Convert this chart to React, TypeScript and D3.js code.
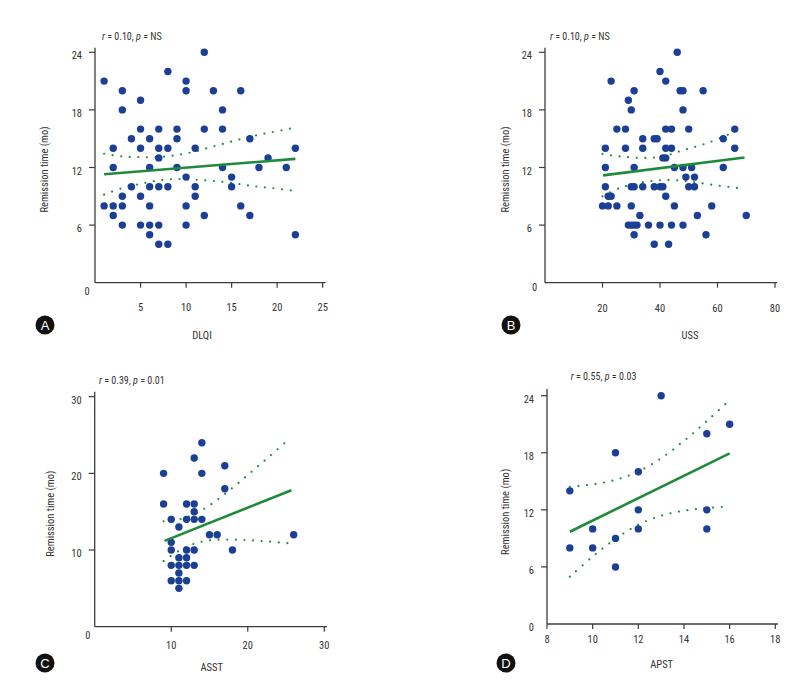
import React from "react";
import * as d3 from "d3";

// ---------- DATA ----------
// Panel A: DLQI vs remission time
const dlqiX = [1,12,8,10,10,3,13,16,5,3,14,5,7,9,12,14,4,6,9,17,2,5,7,8,11,22,7,19,2,6,9,14,18,21,10,15,4,6,7,8,11,15,3,5,11,1,2,3,6,10,16,2,12,17,3,5,6,7,10,6,22,7,8];
const dlqiY = [21,24,22,21,20,20,20,20,19,18,18,16,16,16,16,16,15,15,15,15,14,14,14,14,14,14,13,13,12,12,12,12,12,12,11,11,10,10,10,10,10,10,9,9,9,8,8,8,8,8,8,7,7,7,6,6,6,6,6,5,5,4,4];
const dlqiFit = [[1, 11.3], [22, 12.9]];
const dlqiUpper = [[1,13.43],[3,13.15],[5,13.08],[7,13.08],[9,13.3],[11,13.67],[13,14.2],[15,14.7],[17,15.2],[19,15.6],[21.7,16.1]];
const dlqiLower = [[1,9.17],[3,9.86],[5,10.3],[7,10.66],[9,10.8],[11,10.73],[13,10.6],[15,10.4],[17,10.1],[19,9.9],[21.7,9.6]];

// Panel B: USS vs remission time
const ussX = [46,40,23,42,31,47,48,55,29,30,48,25,28,42,44,50,66,34,38,39,62,21,28,34,42,44,66,41,42,21,31,45,48,51,62,49,52,21,30,31,34,38,40,41,50,52,22,23,42,20,22,25,30,45,58,33,53,70,29,30,31,32,36,40,44,48,31,56,38,43];
const ussY = [24,22,21,21,20,20,20,20,19,18,18,16,16,16,16,16,16,15,15,15,15,14,14,14,14,14,14,13,13,12,12,12,12,12,12,11,11,10,10,10,10,10,10,10,10,10,9,9,9,8,8,8,8,8,8,7,7,7,6,6,6,6,6,6,6,6,5,5,4,4];
const ussFit = [[20.2, 11.18], [69.4, 13.05]];
const ussUpper = [[20,13.4],[26,13.15],[34,13.0],[41,13.15],[48,13.8],[56,14.5],[65,15.6],[68,16.1]];
const ussLower = [[20,9.0],[26,9.86],[34,10.45],[42,10.7],[50,10.55],[58,10.2],[68,9.83]];

// Panel C: ASST vs remission time
const asstX = [9,9,14,13,14,17,17,12,13,13,10,12,13,14,11,15,16,26,10,10,12,13,18,11,12,10,11,12,13,11,10,11,12,11];
const asstY = [20,16,24,22,20,21,18,16,16,15,14,14,14,14,13,12,12,12,11,10,10,10,10,9,9,8,8,8,8,7,6,6,6,5];
const asstFit = [[9.13, 11.2], [25.7, 17.8]];
const asstUpper = [[9,13.75],[11,13.99],[13,14.66],[15,15.82],[17,17.3],[19,18.93],[21,20.63],[23,22.36],[25.3,24.39]];
const asstLower = [[9,8.55],[11,9.89],[13,10.82],[15,11.26],[17,11.36],[19,11.33],[21,11.23],[23,11.08],[25.3,10.89]];

// Panel D: APST vs remission time
const apstX = [9,9,10,10,11,11,11,12,12,12,13,15,15,15,16];
const apstY = [14,8,10,8,18,9,6,16,12,10,24,20,12,10,21];
const apstFit = [[9, 9.7], [16, 17.93]];
const apstUpper = [[9,14.43],[10,14.68],[11,15.15],[12,16.03],[13,17.42],[14,19.25],[15,21.33],[16,23.53]];
const apstLower = [[9,4.97],[10,7.08],[11,8.95],[12,10.43],[13,11.38],[14,11.91],[15,12.19],[16,12.33]];

// Ticks & labels
const dlqiTicks = [5, 10, 15, 20, 25];
const ussTicks = [20, 40, 60, 80];
const asstTicks = [10, 20, 30];
const apstTicks = [8, 10, 12, 14, 16, 18];
const yTicks24 = [6, 12, 18, 24];
const yTicks30 = [10, 20, 30];
const yLabel = "Remission time (mo)";
const statsA = { r: "0.10", p: "NS" };
const statsB = { r: "0.10", p: "NS" };
const statsC = { r: "0.39", p: "0.01" };
const statsD = { r: "0.55", p: "0.03" };

// ---------- STYLE ----------
const DOT = "#1b3f95";
const GREEN = "#1f8a3c";
const AXIS = "#3c3c3c";
const TEXT = "#333";
const FONT = "'Liberation Sans Narrow', 'Roboto Condensed', 'Roboto', sans-serif";

type Pt = number[];

interface PanelProps {
  letter: string;
  xs: number[];
  ys: number[];
  fit: Pt[];
  upper: Pt[];
  lower: Pt[];
  xDomain: [number, number];
  xRange: [number, number];
  yDomain: [number, number];
  yRange: [number, number];
  xTicks: number[];
  yTicks: number[];
  xLabel: string;
  stats: { r: string; p: string };
  yAxisTop: number;
  xAxisEnd: number;
  xLabelDy: number;
  zero: { dx: number; dy: number; anchor: string };
  xTitle: [number, number];
  yTitleX: number;
  titlePos: [number, number];
  circle: [number, number];
}

function Panel(p: PanelProps) {
  const x = d3.scaleLinear().domain(p.xDomain).range(p.xRange);
  const y = d3.scaleLinear().domain(p.yDomain).range(p.yRange);
  const x0 = p.xRange[0];
  const y0 = p.yRange[0];
  const line = d3.line<Pt>().x((d) => x(d[0])).y((d) => y(d[1]));
  const ciLine = d3
    .line<Pt>()
    .x((d) => x(d[0]))
    .y((d) => y(d[1]))
    .curve(d3.curveCatmullRom);
  const yMid = (p.yRange[0] + p.yRange[1]) / 2 + 2;
  return (
    <g fontFamily={FONT}>
      {/* axes */}
      <line x1={x0} x2={x0} y1={p.yAxisTop} y2={y0} stroke={AXIS} strokeWidth={1.3} />
      <line x1={x0} x2={p.xAxisEnd} y1={y0} y2={y0} stroke={AXIS} strokeWidth={1.3} />
      {p.yTicks.map((t) => (
        <g key={"y" + t}>
          <line x1={x0 - 6} x2={x0} y1={y(t)} y2={y(t)} stroke={AXIS} strokeWidth={1.2} />
          <text x={x0 - 13} y={y(t) + 7} textAnchor="end" fontSize={10.5} fill={TEXT}>
            {t}
          </text>
        </g>
      ))}
      <text x={x0 + p.zero.dx} y={y0 + p.zero.dy} textAnchor={p.zero.anchor as any} fontSize={10.5} fill={TEXT}>
        0
      </text>
      {p.xTicks.map((t) => (
        <g key={"x" + t}>
          <line x1={x(t)} x2={x(t)} y1={y0} y2={y0 + 5} stroke={AXIS} strokeWidth={1.2} />
          <text x={x(t)} y={y0 + p.xLabelDy} textAnchor="middle" fontSize={10.5} fill={TEXT}>
            {t}
          </text>
        </g>
      ))}
      {/* titles */}
      <text x={p.xTitle[0]} y={p.xTitle[1] + 4} textAnchor="middle" fontSize={10.5} fill={TEXT}>
        {p.xLabel}
      </text>
      <text
        transform={`translate(${p.yTitleX + 4},${yMid}) rotate(-90)`}
        textAnchor="middle"
        fontSize={10.5}
        fill={TEXT}
      >
        {yLabel}
      </text>
      <text x={p.titlePos[0]} y={p.titlePos[1] + 3.5} fontSize={10} fill={TEXT}>
        <tspan fontStyle="italic">r</tspan>
        {` = ${p.stats.r}, `}
        <tspan fontStyle="italic">p</tspan>
        {` = ${p.stats.p}`}
      </text>
      {/* CI bands */}
      <path d={ciLine(p.upper) || ""} fill="none" stroke={GREEN} strokeWidth={2.2} strokeDasharray="0 8.6" strokeLinecap="round" />
      <path d={ciLine(p.lower) || ""} fill="none" stroke={GREEN} strokeWidth={2.2} strokeDasharray="0 8.6" strokeLinecap="round" />
      {/* points */}
      {p.xs.map((v, i) => (
        <circle key={i} cx={x(v)} cy={y(p.ys[i])} r={3.7} fill={DOT} />
      ))}
      {/* fit */}
      <path d={line(p.fit) || ""} fill="none" stroke={GREEN} strokeWidth={2.6} />
      {/* letter */}
      <circle cx={p.circle[0]} cy={p.circle[1]} r={9.5} fill="#111" />
      <text
        x={p.circle[0]}
        y={p.circle[1] + 4.5}
        textAnchor="middle"
        fontSize={13}
        fontFamily="'Liberation Sans', Arial, sans-serif"
        fill="#fff"
      >
        {p.letter}
      </text>
    </g>
  );
}

export default function App() {
  return (
    <svg
      width={797}
      height={683}
      style={{ position: "absolute", left: 0, top: 0, background: "#fff" }}
    >
      <rect width={797} height={683} fill="#fff" />
      <Panel
        letter="A"
        xs={dlqiX}
        ys={dlqiY}
        fit={dlqiFit}
        upper={dlqiUpper}
        lower={dlqiLower}
        xDomain={[0, 25]}
        xRange={[95, 322.7]}
        yDomain={[0, 24]}
        yRange={[282.7, 52.3]}
        xTicks={dlqiTicks}
        yTicks={yTicks24}
        xLabel="DLQI"
        stats={statsA}
        yAxisTop={47.7}
        xAxisEnd={325.5}
        xLabelDy={28}
        zero={{ dx: -8, dy: 12, anchor: "middle" }}
        xTitle={[202, 335]}
        yTitleX={44}
        titlePos={[102, 36]}
        circle={[45, 325]}
      />
      <Panel
        letter="B"
        xs={ussX}
        ys={ussY}
        fit={ussFit}
        upper={ussUpper}
        lower={ussLower}
        xDomain={[0, 80]}
        xRange={[545, 775]}
        yDomain={[0, 24]}
        yRange={[282.7, 52.3]}
        xTicks={ussTicks}
        yTicks={yTicks24}
        xLabel="USS"
        stats={statsB}
        yAxisTop={47.7}
        xAxisEnd={777}
        xLabelDy={29}
        zero={{ dx: -10.5, dy: 8, anchor: "middle" }}
        xTitle={[690, 335]}
        yTitleX={505}
        titlePos={[550, 36]}
        circle={[511, 325]}
      />
      <Panel
        letter="C"
        xs={asstX}
        ys={asstY}
        fit={asstFit}
        upper={asstUpper}
        lower={asstLower}
        xDomain={[0, 30]}
        xRange={[94.7, 324.3]}
        yDomain={[0, 30]}
        yRange={[626.7, 396.7]}
        xTicks={asstTicks}
        yTicks={yTicks30}
        xLabel="ASST"
        stats={statsC}
        yAxisTop={391.7}
        xAxisEnd={327}
        xLabelDy={22}
        zero={{ dx: -6.8, dy: 12, anchor: "middle" }}
        xTitle={[211.7, 666.7]}
        yTitleX={50}
        titlePos={[99, 380.7]}
        circle={[45, 663]}
      />
      <Panel
        letter="D"
        xs={apstX}
        ys={apstY}
        fit={apstFit}
        upper={apstUpper}
        lower={apstLower}
        xDomain={[8, 18]}
        xRange={[547, 775.3]}
        yDomain={[0, 24]}
        yRange={[624, 395.7]}
        xTicks={apstTicks}
        yTicks={yTicks24}
        xLabel="APST"
        stats={statsD}
        yAxisTop={389}
        xAxisEnd={778}
        xLabelDy={19}
        zero={{ dx: -13, dy: 7, anchor: "end" }}
        xTitle={[661.7, 664]}
        yTitleX={505}
        titlePos={[570.7, 376.7]}
        circle={[506, 663]}
      />
    </svg>
  );
}
